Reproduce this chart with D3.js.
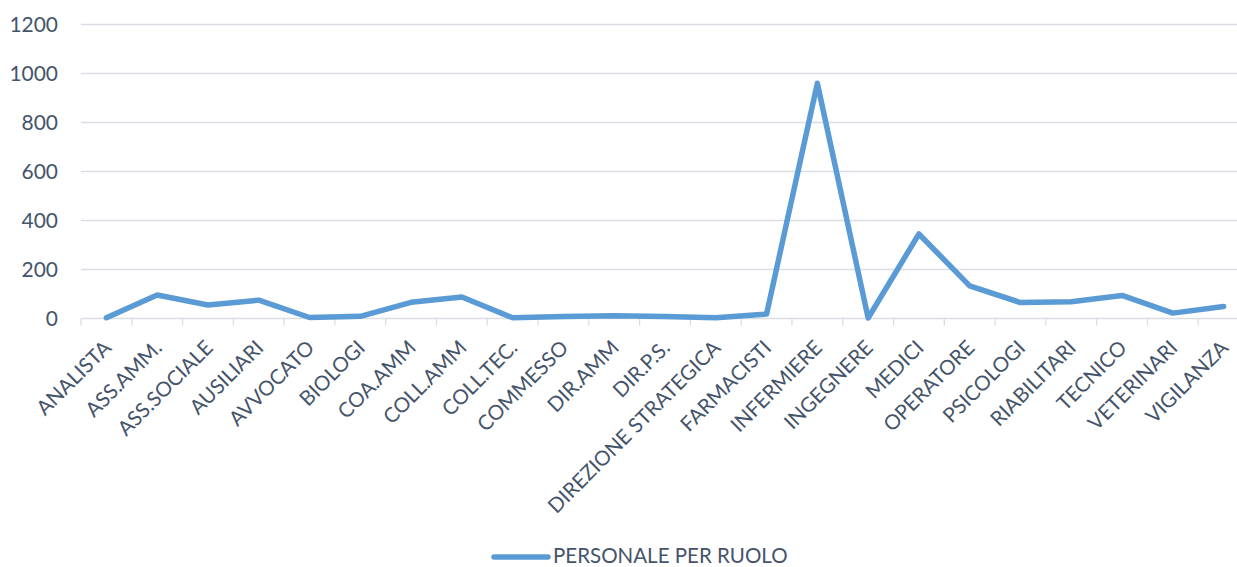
<!DOCTYPE html>
<html>
<head>
<meta charset="utf-8">
<script src="https://cdn.jsdelivr.net/npm/d3@7"></script>
<style>
  html, body { margin: 0; padding: 0; background: #fff; }
  svg { display: block; }
</style>
</head>
<body>
<svg id="chart" width="1237" height="567"></svg>
<script>
const categories = ["ANALISTA","ASS.AMM.","ASS.SOCIALE","AUSILIARI","AVVOCATO","BIOLOGI","COA.AMM","COLL.AMM","COLL.TEC.","COMMESSO","DIR.AMM","DIR.P.S.","DIREZIONE STRATEGICA","FARMACISTI","INFERMIERE","INGEGNERE","MEDICI","OPERATORE","PSICOLOGI","RIABILITARI","TECNICO","VETERINARI","VIGILANZA"];
const values = [3,96,55,75,4,9,66,88,3,8,11,8,3,18,960,2,345,133,65,68,94,22,49];
const seriesName = "PERSONALE PER RUOLO";
const yTicks = [0,200,400,600,800,1000,1200];

const svg = d3.select("#chart");
const FONT = "Lato, 'Open Sans', 'Liberation Sans', sans-serif";
const TEXT = "#44546A";
const GRID = "#D9DDE3";
const LINE = "#5B9BD5";

// fit font size to reference label length
const probe = svg.append("text").attr("font-family", FONT).attr("font-size", 100).text("DIREZIONE STRATEGICA");
const fs = 100 * 234 / probe.node().getComputedTextLength();
probe.remove();

const x = d3.scaleBand().domain(categories).range([81, 1249]).padding(0);
const y = d3.scaleLinear().domain([0, 1200]).range([318.5, 24.5]);

// gridlines
svg.append("g").selectAll("line").data(yTicks).join("line")
  .attr("x1", 81).attr("x2", 1249)
  .attr("y1", d => y(d)).attr("y2", d => y(d))
  .attr("stroke", GRID).attr("stroke-width", 1.3);

// y axis labels
svg.append("g").selectAll("text").data(yTicks).join("text")
  .attr("x", 58).attr("y", d => y(d)).attr("dy", "0.35em")
  .attr("text-anchor", "end")
  .attr("font-family", FONT).attr("font-size", fs * 1.02).attr("fill", TEXT)
  .text(d => d);

// x tick marks at band boundaries
const bounds = categories.map(c => x(c)).concat([x(categories[categories.length-1]) + x.bandwidth()]);
svg.append("g").selectAll("line").data(bounds).join("line")
  .attr("x1", d => d).attr("x2", d => d)
  .attr("y1", y(0)).attr("y2", y(0) + 7)
  .attr("stroke", GRID).attr("stroke-width", 1.3);

// x labels rotated
svg.append("g").selectAll("text").data(categories).join("text")
  .attr("transform", d => `translate(${x(d) + x.bandwidth()/2 + 1},344) rotate(-45)`)
  .attr("dy", "0.35em")
  .attr("text-anchor", "end")
  .attr("font-family", FONT).attr("font-size", fs).attr("fill", TEXT)
  .text(d => d);

// line
const line = d3.line()
  .x((d, i) => x(categories[i]) + x.bandwidth()/2)
  .y(d => y(d));
svg.append("path").datum(values)
  .attr("d", line)
  .attr("fill", "none").attr("stroke", LINE)
  .attr("stroke-width", 5.5)
  .attr("stroke-linejoin", "round").attr("stroke-linecap", "round");

// legend
const lg = svg.append("g");
lg.append("line").attr("x1", 494).attr("x2", 548).attr("y1", 557).attr("y2", 557)
  .attr("stroke", LINE).attr("stroke-width", 5.5).attr("stroke-linecap", "round");
lg.append("text").attr("x", 553).attr("y", 556).attr("dy", "0.35em")
  .attr("font-family", FONT).attr("font-size", fs).attr("fill", TEXT)
  .text(seriesName);
</script>
</body>
</html>
